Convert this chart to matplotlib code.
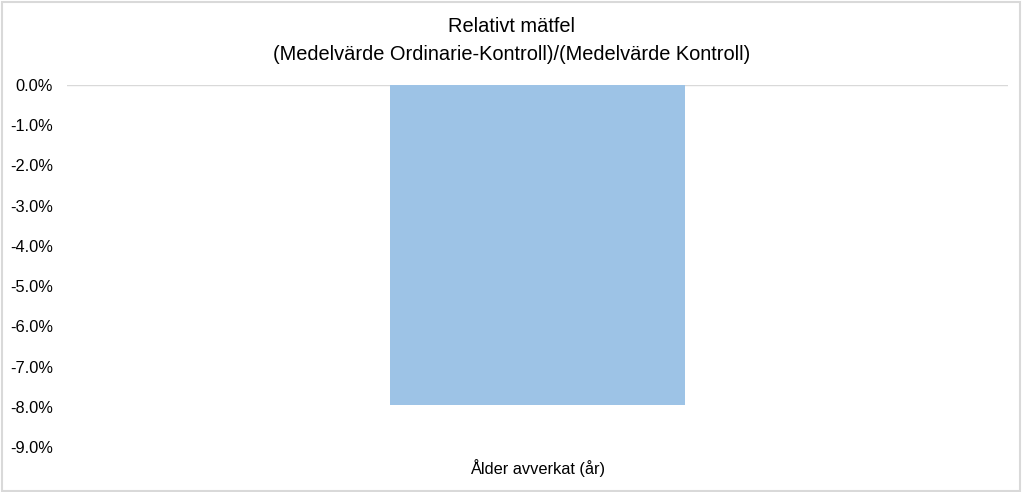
import numpy as np
import matplotlib
matplotlib.use("Agg")
import matplotlib.pyplot as plt
from matplotlib.ticker import FuncFormatter
from matplotlib.patches import Rectangle

categories = ["Ålder avverkat (år)"]
values = [-7.95]  # procent
yticks = [0, -1, -2, -3, -4, -5, -6, -7, -8, -9]

plt.rcParams.update({
    "font.family": ["Liberation Sans", "DejaVu Sans"],
    "font.size": 11,
})

fig = plt.figure(figsize=(10.24, 4.92), dpi=100)
ax = fig.add_axes([67 / 1024, 1 - 447 / 492, 941 / 1024, 362 / 492])

ax.bar(np.arange(len(categories)), values, width=0.3125, color="#9dc3e6", zorder=2)
ax.set_xlim(-0.5, 0.5)
ax.set_ylim(-9, 0)
ax.set_yticks(yticks)
ax.yaxis.set_major_formatter(FuncFormatter(lambda v, _: f"{v:.1f}%"))
ax.set_xticks(np.arange(len(categories)))
ax.set_xticklabels(categories)
ax.tick_params(axis="both", length=0, labelsize=11.8, colors="#000000")
ax.tick_params(axis="x", pad=9)
ax.tick_params(axis="y", pad=10)
for s in ax.spines.values():
    s.set_visible(False)
ax.axhline(0, color="#d9d9d9", linewidth=1.0, zorder=1)

fig.text(0.5, 1 - 32 / 492, "Relativt mätfel", ha="center", va="baseline", fontsize=14.4)
fig.text(0.5, 1 - 60 / 492, "(Medelvärde Ordinarie-Kontroll)/(Medelvärde Kontroll)",
         ha="center", va="baseline", fontsize=14.4)

fig.patches.append(Rectangle((0.002, 0.002), 0.994, 0.994, transform=fig.transFigure,
                             fill=False, edgecolor="#d9d9d9", linewidth=1.5))

fig.savefig("out.png", dpi=100)
